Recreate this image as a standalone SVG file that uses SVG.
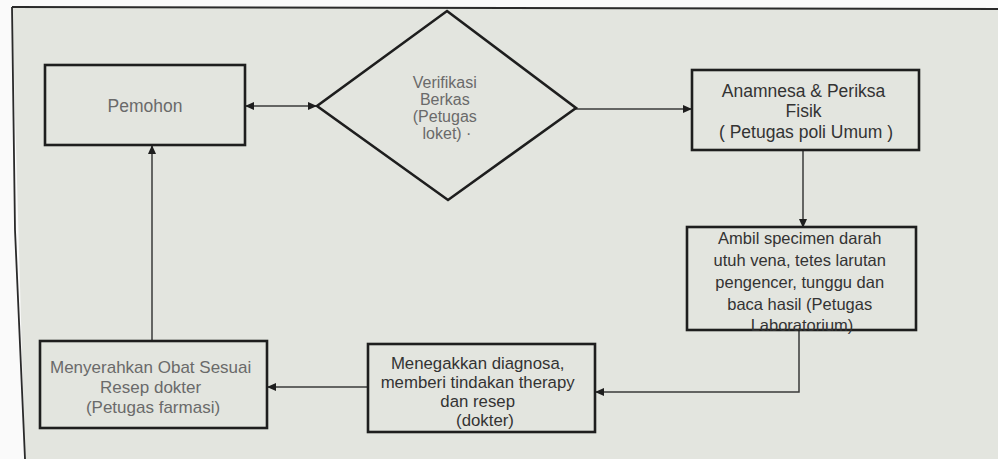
<svg xmlns="http://www.w3.org/2000/svg" width="998" height="459" viewBox="0 0 998 459">
<style>
.box{fill:none;stroke:#1e1e1e;stroke-width:2.6}
.conn{fill:none;stroke:#3a3a3a;stroke-width:1.5}
.t{font-family:"Liberation Sans",Arial,sans-serif;text-anchor:middle}
.light{fill:#6a6a6a}
.dark{fill:#333333}
</style>
<defs>
<marker id="ah" markerUnits="userSpaceOnUse" markerWidth="10" markerHeight="8" refX="9" refY="4" orient="auto-start-reverse">
<path d="M0,0 L9,4 L0,8 Z" fill="#1e1e1e"/>
</marker>
</defs>
<rect x="0" y="0" width="998" height="459" fill="#fafafa"/>
<polygon points="12,7 998,9 998,459 25,459" fill="#e3e5df"/>
<g id="frame">
<path d="M12,7 L998,9" stroke="#2a2a2a" stroke-width="2" fill="none"/>
<path d="M12,7 L15,230 L25,459" stroke="#2a2a2a" stroke-width="1.8" fill="none"/>
</g>
<g id="connectors">
<path class="conn" d="M245,106 H317" marker-start="url(#ah)" marker-end="url(#ah)"/>
<path class="conn" d="M575,109 H692" marker-end="url(#ah)"/>
<path class="conn" d="M803,150 V228" marker-end="url(#ah)"/>
<path class="conn" d="M799,331 V392 H595" marker-end="url(#ah)"/>
<path class="conn" d="M368,387 H267" marker-end="url(#ah)"/>
<path class="conn" d="M152,341 V145" marker-end="url(#ah)"/>
</g>
<g id="pemohon">
<rect class="box" x="45" y="65" width="200" height="80"/>
<text class="t light" x="145" y="112" font-size="17.5">Pemohon</text>
</g>
<g id="verifikasi">
<polygon class="box" points="447,11 576,108 448,200 317,106"/>
<text class="t light" font-size="16">
<tspan x="447" y="88">Verifikasi</tspan>
<tspan x="447" y="105">Berkas</tspan>
<tspan x="447" y="122">(Petugas</tspan>
<tspan x="447" y="139">loket) ·</tspan>
</text>
</g>
<g id="anamnesa">
<rect class="box" x="692" y="70" width="227" height="80"/>
<text class="t dark" font-size="17.5">
<tspan x="806" y="97">Anamnesa &amp; Periksa</tspan>
<tspan x="806" y="117">Fisik</tspan>
<tspan x="806" y="138">( Petugas poli Umum )</tspan>
</text>
</g>
<g id="ambil">
<rect class="box" x="687" y="227" width="229" height="103"/>
<text class="t dark" font-size="16.5">
<tspan x="802" y="244">Ambil specimen darah</tspan>
<tspan x="802" y="266">utuh vena, tetes larutan</tspan>
<tspan x="802" y="288">pengencer, tunggu dan</tspan>
<tspan x="802" y="310">baca hasil  (Petugas</tspan>
<tspan x="802" y="331">Laboratorium)</tspan>
</text>
</g>
<g id="menegakkan">
<rect class="box" x="368" y="344" width="227" height="88"/>
<text class="t dark" font-size="16.8">
<tspan x="480" y="369">Menegakkan diagnosa,</tspan>
<tspan x="480" y="388">memberi tindakan therapy</tspan>
<tspan x="480" y="407">dan resep</tspan>
<tspan x="485" y="426">(dokter)</tspan>
</text>
</g>
<g id="menyerahkan">
<rect class="box" x="40" y="341" width="227" height="87"/>
<text class="t light" font-size="17">
<tspan x="153" y="373">Menyerahkan Obat Sesuai</tspan>
<tspan x="153" y="393">Resep dokter</tspan>
<tspan x="153" y="413">(Petugas farmasi)</tspan>
</text>
</g>
</svg>
